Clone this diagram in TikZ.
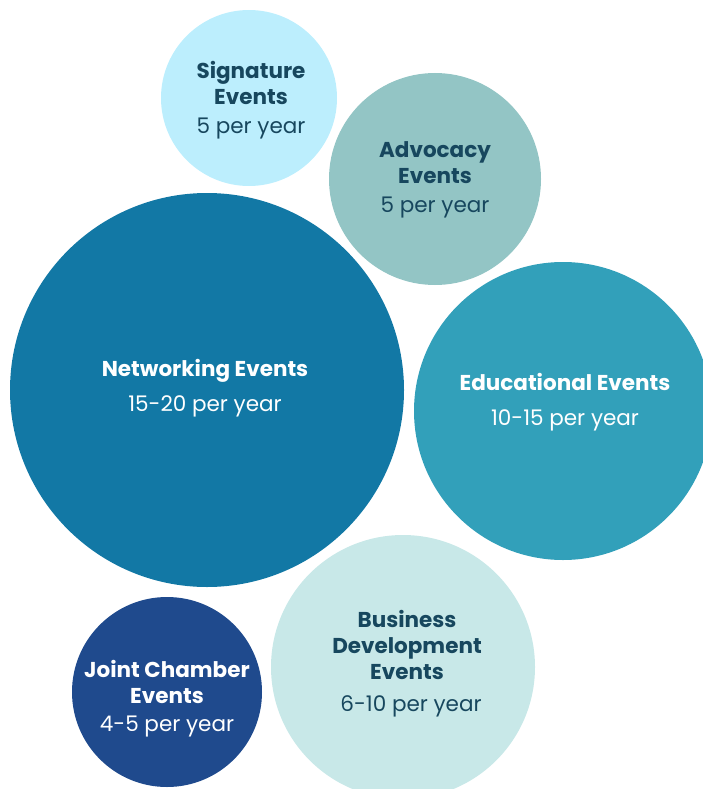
\documentclass[tikz,border=0pt]{standalone}
\usepackage{fontspec}
\setmainfont{Poppins}
\definecolor{netblue}{HTML}{1278A5}
\definecolor{edublue}{HTML}{32A0BA}
\definecolor{advteal}{HTML}{93C5C5}
\definecolor{sigblue}{HTML}{BCEEFD}
\definecolor{busteal}{HTML}{C8E8E8}
\definecolor{jointblue}{HTML}{1F4A8D}
\definecolor{darktext}{HTML}{17475E}
\begin{document}
\begin{tikzpicture}[x=1pt,y=-1pt,
    bubble/.style={circle,inner sep=0pt},
    bubbletext/.style={align=center,inner sep=0pt,font=\fontsize{21.5}{26}\selectfont}]
  \clip (0,0) rectangle (703,789);
  % circles
  \node[bubble,fill=sigblue,minimum size=176pt] (sig) at (249,98) {};
  \node[bubble,fill=advteal,minimum size=212pt] (adv) at (435,179) {};
  \node[bubble,fill=netblue,minimum size=394pt] (net) at (207,390) {};
  \node[bubble,fill=edublue,minimum size=298pt] (edu) at (563,411) {};
  \node[bubble,fill=busteal,minimum size=264pt] (bus) at (403,667) {};
  \node[bubble,fill=jointblue,minimum size=190pt] (joint) at (167,692) {};
  % labels
  \node[bubbletext,text=darktext] (sigtxt) at (251,100)
    {\textbf{Signature}\\\textbf{Events}\\[3pt]5 per year};
  \node[bubbletext,text=darktext] (advtxt) at (435,180)
    {\textbf{Advocacy}\\\textbf{Events}\\[3pt]5 per year};
  \node[bubbletext,text=white] (nettxt) at (205,388)
    {\textbf{Networking Events}\\[9pt]15-20 per year};
  \node[bubbletext,text=white] (edutxt) at (565,402)
    {\textbf{Educational Events}\\[9pt]10-15 per year};
  \node[bubbletext,text=darktext] (bustxt) at (407,664)
    {\textbf{Business}\\\textbf{Development}\\\textbf{Events}\\[6pt]\hspace*{8pt}6-10 per year};
  \node[bubbletext,text=white] (jointtxt) at (167,699)
    {\textbf{Joint Chamber}\\\textbf{Events}\\[2pt]4-5 per year};
\end{tikzpicture}
\end{document}
